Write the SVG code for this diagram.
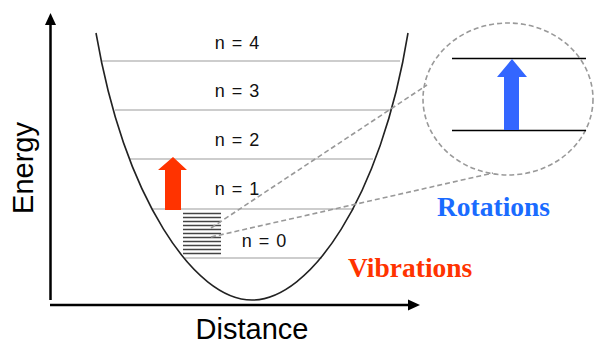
<svg xmlns="http://www.w3.org/2000/svg" width="594" height="344" viewBox="0 0 594 344">
<style>
.lvl{stroke:#bdbdbd;stroke-width:1.5;fill:none}
.lbl{font-family:"Liberation Sans",Arial,sans-serif;font-size:18px;fill:#111;word-spacing:2px}
.ax{stroke:#000;stroke-width:2.5;fill:none}
.dash{stroke:#999;stroke-width:1.6;fill:none;stroke-dasharray:5 3}
.hatch{stroke:#444;stroke-width:1.5}
.big{font-family:"Liberation Serif","Times New Roman",serif;font-weight:bold;font-size:27.5px}
.axl{font-family:"Liberation Sans",Arial,sans-serif;font-size:29px;fill:#000}
</style>
<rect width="594" height="344" fill="#fff"/>
<g id="axes">
<line class="ax" x1="50.5" y1="22" x2="50.5" y2="300"/>
<polygon points="50.5,13 45,25 56,25" fill="#000"/>
<line class="ax" x1="50" y1="305" x2="411" y2="305"/>
<polygon points="420,305 408,299.5 408,310.5" fill="#000"/>
<text class="axl" transform="translate(33,168) rotate(-90)" text-anchor="middle">Energy</text>
<text class="axl" x="252" y="339" text-anchor="middle">Distance</text>
</g>
<g id="levels">
<line class="lvl" x1="102" y1="61" x2="400" y2="61"/>
<line class="lvl" x1="115" y1="110" x2="391" y2="110"/>
<line class="lvl" x1="130" y1="159" x2="373" y2="159"/>
<line class="lvl" x1="152" y1="209" x2="354" y2="209"/>
<line class="lvl" x1="185" y1="258" x2="322" y2="258"/>
<text class="lbl" x="237" y="49" text-anchor="middle">n = 4</text>
<text class="lbl" x="237" y="97" text-anchor="middle">n = 3</text>
<text class="lbl" x="237" y="146" text-anchor="middle">n = 2</text>
<text class="lbl" x="237" y="195" text-anchor="middle">n = 1</text>
<text class="lbl" x="264" y="247" text-anchor="middle">n = 0</text>
</g>
<g id="potential">
<path d="M96,33 C125,200 195,300 252,300 C309,300 381,200 408,33" fill="none" stroke="#222" stroke-width="1.6"/>
</g>
<g id="vib-arrow">
<polygon points="173,157 158,170 165,170 165,210 181,210 181,170 187,170" fill="#ff3300"/>
</g>
<g id="rot-levels">
<g class="hatch">
<line x1="183" y1="213.5" x2="221" y2="213.5"/>
<line x1="183" y1="217.5" x2="221" y2="217.5"/>
<line x1="183" y1="221.5" x2="221" y2="221.5"/>
<line x1="183" y1="225.5" x2="221" y2="225.5"/>
<line x1="183" y1="229.5" x2="221" y2="229.5"/>
<line x1="183" y1="233.5" x2="221" y2="233.5"/>
<line x1="183" y1="237.5" x2="221" y2="237.5"/>
<line x1="183" y1="241.5" x2="221" y2="241.5"/>
<line x1="183" y1="245.5" x2="221" y2="245.5"/>
<line x1="183" y1="249.5" x2="221" y2="249.5"/>
<line x1="183" y1="253.5" x2="221" y2="253.5"/>
</g>
</g>
<g id="connectors">
<line class="dash" x1="211" y1="228" x2="427" y2="85"/>
<line class="dash" x1="211" y1="237" x2="493" y2="173"/>
</g>
<g id="zoom">
<ellipse class="dash" cx="508" cy="99" rx="85" ry="76"/>
<line x1="452" y1="58.5" x2="586" y2="58.5" stroke="#000" stroke-width="1.5"/>
<line x1="452" y1="130.5" x2="586" y2="130.5" stroke="#000" stroke-width="1.5"/>
<polygon points="512,59 497,77 504,77 504,130 519,130 519,77 527,77" fill="#3366ff"/>
</g>
<g id="titles">
<text class="big" x="437" y="216" fill="#1a6bff">Rotations</text>
<text class="big" x="348" y="277" fill="#ff3300">Vibrations</text>
</g>
</svg>
